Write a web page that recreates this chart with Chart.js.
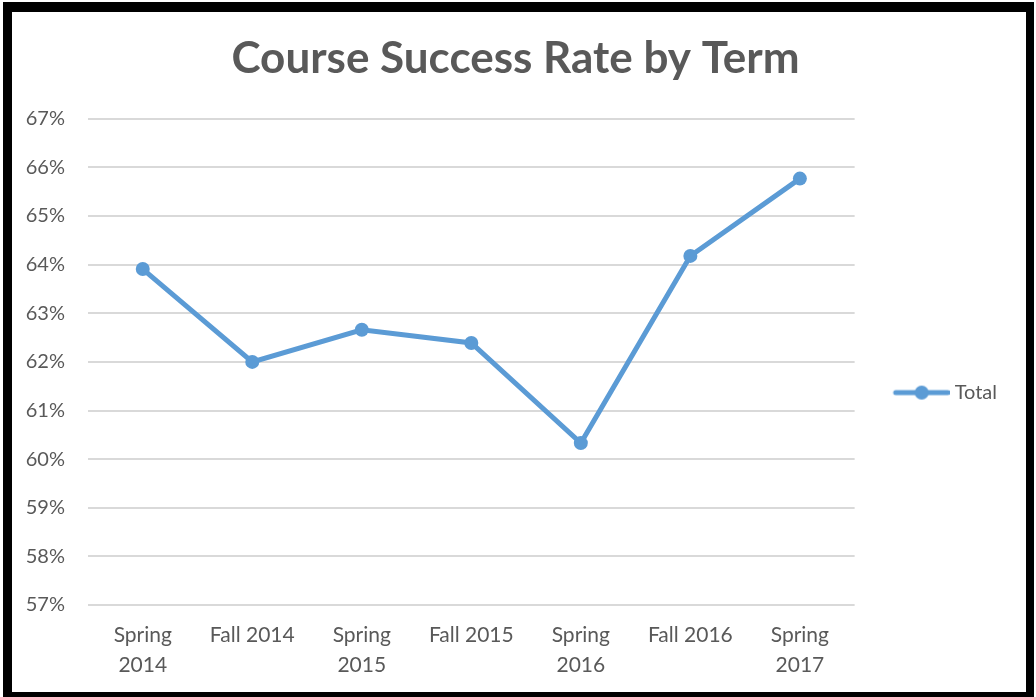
<!DOCTYPE html>
<html>
<head>
<meta charset="utf-8">
<script src="https://cdn.jsdelivr.net/npm/chart.js@4"></script>
<style>
  body { margin: 0; background: #fff; overflow: hidden; }
  #frame {
    position: absolute; left: 3px; top: 2px;
    width: 1031px; height: 699px;
    border: solid #000; border-width: 10px 8px 9px 9px;
    box-sizing: border-box; background: #fff;
  }
  #chart { display: block; }
</style>
</head>
<body>
<div id="frame"><canvas id="chart" width="1014" height="680"></canvas></div>
<script>
// terms and success rates
const terms = [
  ["Spring", "2014"], "Fall 2014", ["Spring", "2015"], "Fall 2015",
  ["Spring", "2016"], "Fall 2016", ["Spring", "2017"]
];
const totalRates = [0.6391, 0.6200, 0.6266, 0.6239, 0.6033, 0.6418, 0.6577];
const yMin = 0.57, yMax = 0.67, yStep = 0.01;

const blue = "#5b9bd5";
const grey = "#595959";
const font = "Lato, 'Open Sans', sans-serif";

// legend marker: line with a dot, left side kept empty so it sits where excel puts it
function legendMarker() {
  const c = document.createElement("canvas");
  c.width = 90; c.height = 16;
  const g = c.getContext("2d");
  g.strokeStyle = blue; g.lineWidth = 5; g.lineCap = "round";
  g.beginPath(); g.moveTo(36, 8); g.lineTo(88, 8); g.stroke();
  g.fillStyle = blue;
  g.beginPath(); g.arc(62, 8, 7, 0, Math.PI * 2); g.fill();
  return c;
}

const ctx = document.getElementById("chart").getContext("2d");
new Chart(ctx, {
  type: "line",
  data: {
    labels: terms,
    datasets: [{
      label: "Total",
      data: totalRates,
      borderColor: blue,
      backgroundColor: blue,
      borderWidth: 5,
      pointRadius: 7,
      pointBackgroundColor: blue,
      pointBorderWidth: 0,
      tension: 0,
    }]
  },
  options: {
    responsive: false,
    animation: false,
    layout: { padding: { left: 12, right: 19, top: 0, bottom: 12 } },
    scales: {
      y: {
        min: yMin, max: yMax,
        border: { display: false },
        grid: { color: "#d9d9d9", lineWidth: 2, drawTicks: false },
        ticks: {
          stepSize: yStep, padding: 23, color: grey,
          font: { family: font, size: 20 },
          callback: v => Math.round(v * 100) + "%"
        },
        afterFit: s => { s.width = 64; }
      },
      x: {
        offset: true,
        border: { display: false },
        grid: { display: false, drawTicks: false },
        ticks: {
          color: grey, padding: 16, maxRotation: 0, autoSkip: false,
          font: { family: font, size: 21, lineHeight: 1.4 }
        },
        afterFit: s => { s.height = 75; }
      }
    },
    plugins: {
      title: {
        display: true,
        text: "Course Success Rate by Term",
        color: grey,
        font: { family: font, size: 44, weight: "bold" },
        padding: { top: 20, bottom: 34 }
      },
      legend: {
        position: "right",
        title: { display: true, text: " ", font: { size: 1 }, padding: { top: 0, bottom: 92 } },
        labels: {
          color: grey,
          font: { family: font, size: 20 },
          usePointStyle: true,
          pointStyleWidth: 80,
          padding: 10,
          generateLabels: chart => [{
            text: "Total",
            pointStyle: legendMarker(),
            fontColor: grey,
            datasetIndex: 0
          }]
        }
      },
      tooltip: { enabled: false }
    }
  }
});
</script>
</body>
</html>
